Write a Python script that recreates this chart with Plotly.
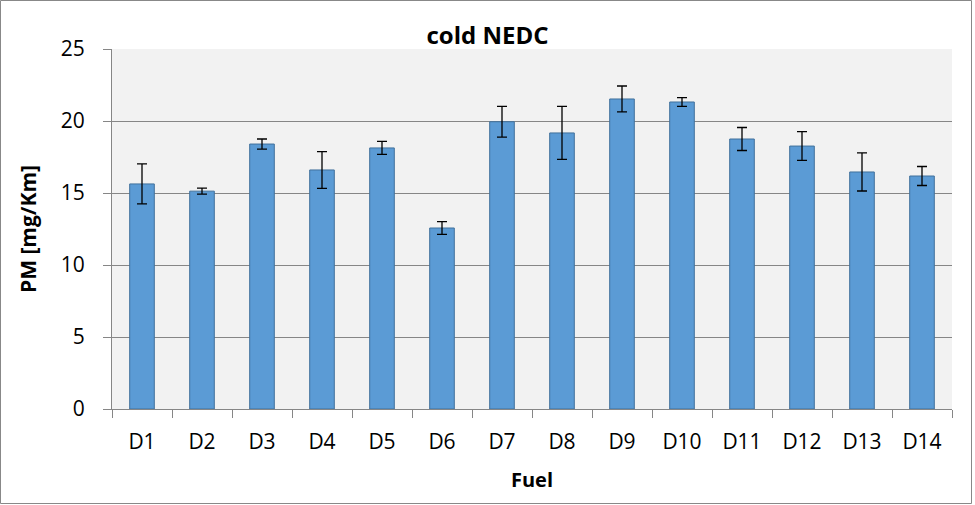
import plotly.graph_objects as go

fuels = ["D1", "D2", "D3", "D4", "D5", "D6", "D7", "D8", "D9", "D10", "D11", "D12", "D13", "D14"]
pm_values = [15.63, 15.13, 18.40, 16.60, 18.13, 12.57, 19.95, 19.17, 21.53, 21.32, 18.75, 18.26, 16.46, 16.18]
pm_errors = [1.39, 0.21, 0.35, 1.28, 0.45, 0.44, 1.07, 1.84, 0.90, 0.31, 0.80, 1.00, 1.32, 0.66]
y_ticks = [0, 5, 10, 15, 20, 25]

W, H = 975, 505
ml, mr, mt, mb = 112, 23, 49, 96
font_family = "Open Sans, Liberation Sans, Arial, sans-serif"

fig = go.Figure(go.Bar(
    x=fuels, y=pm_values,
    marker=dict(color="#5B9BD5", line=dict(color="#41719C", width=1)),
    error_y=dict(type="data", array=pm_errors, visible=True, color="black", thickness=1.3, width=5),
    width=0.41,
))

pw = W - ml - mr
ph = H - mt - mb
fig.add_shape(type="rect", xref="paper", yref="paper",
              x0=(-ml + 0.5) / pw, x1=(pw + mr - 3.5) / pw,
              y0=(-mb + 1.5) / ph, y1=(ph + mt - 0.5) / ph,
              line=dict(color="#888888", width=1), layer="above")

fig.update_layout(
    width=W, height=H,
    margin=dict(l=ml, r=mr, t=mt, b=mb, pad=0),
    paper_bgcolor="white", plot_bgcolor="#F2F2F2",
    showlegend=False,
    font=dict(family=font_family, size=21, color="black"),
    title=dict(text="<b>cold NEDC</b>", x=0.5, xref="container", xanchor="center",
               y=1 - 36 / H, yref="container", yanchor="middle",
               font=dict(size=24, family=font_family, color="black")),
    xaxis=dict(
        title=dict(text="<b>Fuel</b>", font=dict(size=20), standoff=18),
        showline=True, linecolor="#868686", linewidth=1,
        ticks="outside", ticklen=8, tickcolor="#868686", tickson="boundaries",
        showgrid=False, ticklabelstandoff=14,
        tickfont=dict(size=21),
    ),
    yaxis=dict(
        title=dict(text="<b>PM [mg/Km]</b>", font=dict(size=21), standoff=18),
        range=[0, 25], tickvals=y_ticks,
        showline=True, linecolor="#868686", linewidth=1,
        ticks="outside", ticklen=8, tickcolor="#868686",
        showgrid=True, gridcolor="#868686", gridwidth=1,
        zeroline=False, ticklabelstandoff=14,
        tickfont=dict(size=21),
    ),
)

fig.write_html("out.html", config={"displayModeBar": False},
               post_script="document.body.style.margin='0';document.body.style.padding='0';")
